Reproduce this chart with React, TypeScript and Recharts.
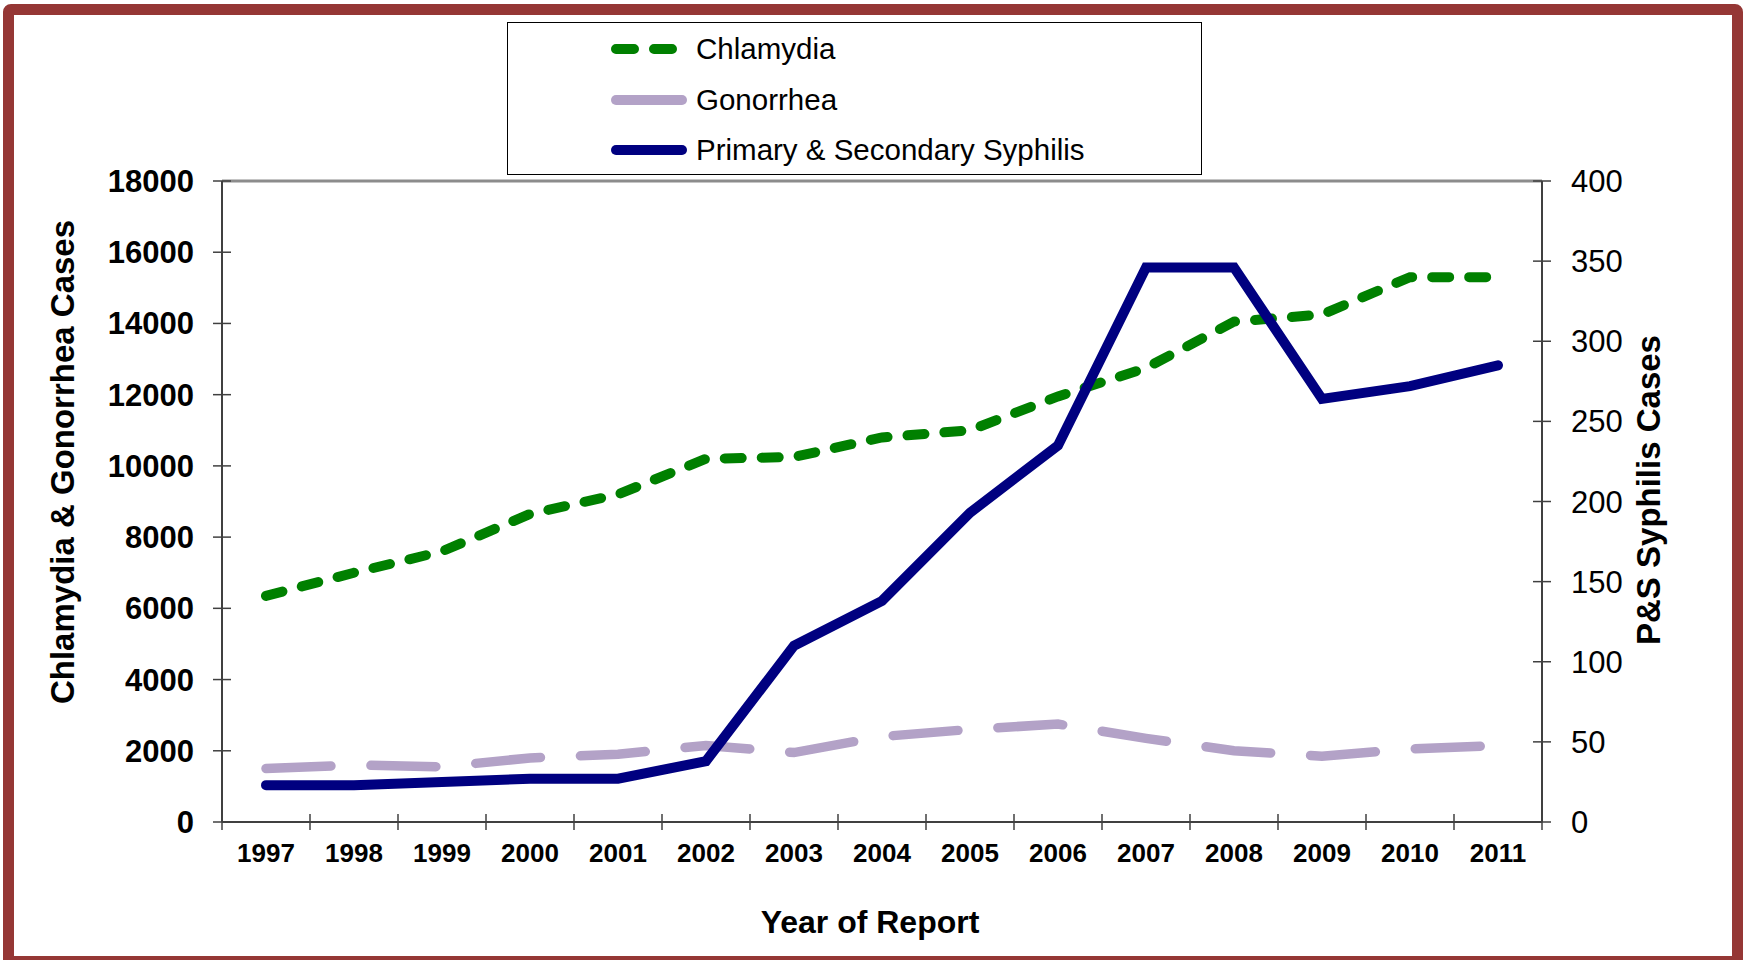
import React from 'react';
import { LineChart, Line, XAxis, YAxis, Legend, ReferenceLine } from 'recharts';

const years = ['1997', '1998', '1999', '2000', '2001', '2002', '2003', '2004', '2005', '2006', '2007', '2008', '2009', '2010', '2011'];
const chlamydia = [6350, 7000, 7600, 8650, 9200, 10200, 10250, 10800, 11000, 11950, 12750, 14050, 14250, 15300, 15300];
const gonorrhea = [1500, 1600, 1550, 1800, 1900, 2150, 1950, 2400, 2600, 2750, 2350, 2000, 1850, 2050, 2150];
const syphilis = [23, 23, 25, 27, 27, 38, 110, 138, 193, 235, 346, 346, 264, 272, 285];

const leftTicks = [0, 2000, 4000, 6000, 8000, 10000, 12000, 14000, 16000, 18000];
const rightTicks = [0, 50, 100, 150, 200, 250, 300, 350, 400];

const series = [
  { key: 'chlamydia', name: 'Chlamydia', color: '#008000', width: 10, dash: '17 20', axis: 'left', sampleDash: '18 20', sampleEnd: 62 },
  { key: 'gonorrhea', name: 'Gonorrhea', color: '#B3A2C7', width: 9.5, dash: '65 40', axis: 'left', sampleDash: undefined, sampleEnd: 71 },
  { key: 'syphilis', name: 'Primary & Secondary Syphilis', color: '#000080', width: 10, dash: undefined, axis: 'right', sampleDash: undefined, sampleEnd: 71 },
];

const rows = years.map((year, i) => ({
  year,
  chlamydia: chlamydia[i],
  gonorrhea: gonorrhea[i],
  syphilis: syphilis[i],
}));

const FONT = '"Liberation Sans", Arial, sans-serif';
const AXIS = '#404040';
const PLOT_W = 1320;
const HALF = PLOT_W / years.length / 2; // half a category, so the tick marks sit between years

const LeftTick = (props: any) => {
  const { x, y, payload } = props;
  const ax = x + 28;
  return (
    <g>
      <line x1={ax - 9} x2={ax + 9} y1={y} y2={y} stroke={AXIS} strokeWidth={1.5} />
      <text x={x} y={y} dy={11} textAnchor="end" fontFamily={FONT} fontWeight="bold" fontSize={31} fill="#000">
        {payload.value}
      </text>
    </g>
  );
};

const RightTick = (props: any) => {
  const { x, y, payload } = props;
  const ax = x - 29;
  return (
    <g>
      <line x1={ax - 9} x2={ax + 9} y1={y} y2={y} stroke={AXIS} strokeWidth={1.5} />
      <text x={x} y={y} dy={11} textAnchor="start" fontFamily={FONT} fontSize={31} fill="#000">
        {payload.value}
      </text>
    </g>
  );
};

const YearTick = (props: any) => {
  const { x, y, payload, index } = props;
  const last = index === years.length - 1;
  return (
    <g>
      <line x1={x - HALF} x2={x - HALF} y1={y - 8} y2={y + 8} stroke={AXIS} strokeWidth={1.5} />
      {last && <line x1={x + HALF} x2={x + HALF} y1={y - 8} y2={y + 8} stroke={AXIS} strokeWidth={1.5} />}
      <text x={x} y={y} dy={40} textAnchor="middle" fontFamily={FONT} fontWeight="bold" fontSize={26} fill="#000">
        {payload.value}
      </text>
    </g>
  );
};

const LegendBox = () => (
  <div style={{ position: 'relative', width: 695, height: 153, border: '1px solid #000', boxSizing: 'border-box', background: '#fff' }}>
    {series.map((s, i) => (
      <div key={s.key} style={{ position: 'absolute', left: 0, top: 26 + i * 50.5 - 20, height: 40, width: 690 }}>
        <svg width={80} height={40} style={{ position: 'absolute', left: 103, top: 0 }}>
          <line x1={5} x2={s.sampleEnd} y1={20} y2={20} stroke={s.color} strokeWidth={10} strokeLinecap="round" strokeDasharray={s.sampleDash} />
        </svg>
        <span style={{ position: 'absolute', left: 188, top: 0, lineHeight: '40px', fontFamily: FONT, fontSize: 29.5, color: '#000', whiteSpace: 'nowrap' }}>
          {s.name}
        </span>
      </div>
    ))}
  </div>
);

export default function App() {
  return (
    <div style={{ position: 'absolute', left: 0, top: 0, width: 1746, height: 960, background: '#fff', overflow: 'hidden' }}>
      <div style={{ position: 'absolute', left: 3, top: 4, width: 1740, height: 963, border: '11px solid #953735', borderRadius: 8, boxSizing: 'border-box' }} />
      <LineChart width={1746} height={960} data={rows} margin={{ top: 181, right: 54, bottom: 137, left: 20 }} style={{ position: 'absolute', left: 0, top: 0 }}>
        <XAxis
          dataKey="year"
          height={1}
          padding={{ left: HALF, right: HALF }}
          axisLine={{ stroke: AXIS, strokeWidth: 2 }}
          tickLine={false}
          tickSize={0}
          tickMargin={0}
          interval={0}
          tick={<YearTick />}
          label={() => (
            <text x={870} y={933} textAnchor="middle" fontFamily={FONT} fontWeight="bold" fontSize={32} fill="#000">
              Year of Report
            </text>
          )}
        />
        <YAxis
          yAxisId="left"
          width={202}
          domain={[0, 18000]}
          ticks={leftTicks}
          interval={0}
          axisLine={{ stroke: AXIS, strokeWidth: 2 }}
          tickLine={false}
          tickSize={9}
          tickMargin={19}
          tick={<LeftTick />}
          label={() => (
            <text x={62} y={462} transform="rotate(-90 62 462)" textAnchor="middle" dominantBaseline="central" fontFamily={FONT} fontWeight="bold" fontSize={33} fill="#000">
              Chlamydia &amp; Gonorrhea Cases
            </text>
          )}
        />
        <YAxis
          yAxisId="right"
          orientation="right"
          width={150}
          domain={[0, 400]}
          ticks={rightTicks}
          interval={0}
          axisLine={{ stroke: AXIS, strokeWidth: 2 }}
          tickLine={false}
          tickSize={9}
          tickMargin={20}
          tick={<RightTick />}
          label={() => (
            <text x={1648} y={490} transform="rotate(-90 1648 490)" textAnchor="middle" dominantBaseline="central" fontFamily={FONT} fontWeight="bold" fontSize={33} fill="#000">
              P&amp;S Syphilis Cases
            </text>
          )}
        />
        <ReferenceLine yAxisId="left" y={18000} stroke="#8c8c8c" strokeWidth={3} />
        <Legend
          layout="horizontal"
          verticalAlign="middle"
          align="center"
          wrapperStyle={{ top: 22, left: 507, width: 695, height: 153 }}
          content={() => <LegendBox />}
        />
        {series.map((s) => (
          <Line
            key={s.key}
            yAxisId={s.axis}
            dataKey={s.key}
            name={s.name}
            type="linear"
            stroke={s.color}
            strokeWidth={s.width}
            strokeDasharray={s.dash}
            strokeLinecap="round"
            dot={false}
            activeDot={false}
            isAnimationActive={false}
          />
        ))}
      </LineChart>
    </div>
  );
}
